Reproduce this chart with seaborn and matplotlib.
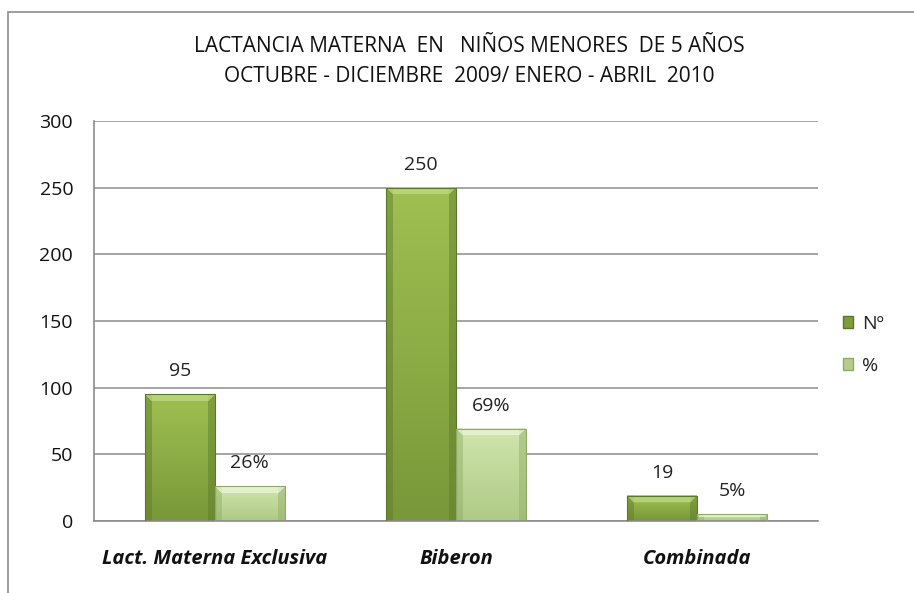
import matplotlib
matplotlib.use("Agg")
import matplotlib.pyplot as plt
import seaborn as sns
import pandas as pd
import numpy as np
from matplotlib.patches import Rectangle, Patch
from matplotlib.colors import to_rgb

categories = ["Lact. Materna Exclusiva", "Biberon", "Combinada"]
series_names = ["Nº", "%"]
numero = [95, 250, 19]
porcentaje = [26, 69, 5]
label_numero = ["95", "250", "19"]
label_pct = ["26%", "69%", "5%"]
y_ticks = [0, 50, 100, 150, 200, 250, 300]
title_lines = ["LACTANCIA MATERNA  EN   NIÑOS MENORES  DE 5 AÑOS",
               "OCTUBRE - DICIEMBRE  2009/ ENERO - ABRIL  2010"]

df = pd.DataFrame({
    "cat": categories * 2,
    "serie": [series_names[0]] * 3 + [series_names[1]] * 3,
    "valor": numero + porcentaje,
})

sns.set_theme(style="white")
plt.rcParams["font.family"] = ["Open Sans", "DejaVu Sans"]

fig = plt.figure(figsize=(9.14, 5.93), dpi=100)
ax = fig.add_axes([94 / 914, 1 - 521 / 593, 724 / 914, 400 / 593])

palette = {"Nº": "#7E9E3C", "%": "#B4CD8C"}
sns.barplot(data=df, x="cat", y="valor", hue="serie", palette=palette,
            width=0.58, ax=ax, legend=False, saturation=1)

ax.set_ylim(0, 300)
ax.set_xlim(-0.5, 2.5)

grad = {
    "Nº": dict(top="#A0C052", bottom="#789839", edge="#5A7829", hi="#C4DC88"),
    "%": dict(top="#D0E5AC", bottom="#AFCA86", edge="#8FAA66", hi="#EEF6DC"),
}

fig.canvas.draw()
for cont, name, labs in zip(ax.containers, series_names, [label_numero, label_pct]):
    g = grad[name]
    top, bot, edge, hi = (np.array(to_rgb(g[k])) for k in ("top", "bottom", "edge", "hi"))
    for p in cont:
        x0, y0 = p.get_x(), p.get_y()
        w, h = p.get_width(), p.get_height()
        if h <= 0:
            continue
        (px0, py0), (px1, py1) = ax.transData.transform([(x0, y0), (x0 + w, y0 + h)])
        W = max(int(round(px1 - px0)), 2)
        H = max(int(round(py1 - py0)), 2)
        t = np.linspace(1, 0, H)[:, None, None]
        img = bot + (top - bot) * t
        img = np.repeat(img, W, axis=1)
        bev = 7
        xs = np.arange(W)[None, :]
        ys = np.arange(H)[:, None]
        side = np.broadcast_to(np.minimum(xs, W - 1 - xs) < bev, (H, W))
        img[side] = img[side] * 0.55 + edge * 0.45
        topb = (ys < min(bev, H // 2)) & (xs >= ys) & (xs <= W - 1 - ys)
        img[topb] = img[topb] * 0.3 + hi * 0.7
        ax.imshow(img, extent=(x0, x0 + w, y0, y0 + h), aspect="auto",
                  interpolation="bilinear", zorder=2)
        p.set_facecolor("none")
        p.set_edgecolor(edge)
        p.set_linewidth(0.8)
        p.set_zorder(3)
    ax.bar_label(cont, labels=labs, padding=10, fontsize=14, color="#222222")

ax.set_ylim(0, 300)
ax.set_xlim(-0.5, 2.5)
ax.set_aspect("auto")
ax.set_yticks(y_ticks)
ax.yaxis.grid(True, color="#8C8C8C", linewidth=1.1)
ax.set_axisbelow(True)
for s in ["right", "top"]:
    ax.spines[s].set_visible(False)
for s in ["left", "bottom"]:
    ax.spines[s].set_color("#8C8C8C")
    ax.spines[s].set_linewidth(1.2)
ax.tick_params(axis="y", labelsize=14, pad=15, length=0, colors="#111111")
ax.tick_params(axis="x", length=0, pad=20)
ax.set_xlabel("")
ax.set_ylabel("")
for t in ax.get_xticklabels():
    t.set_fontsize(14.5)
    t.set_fontweight("bold")
    t.set_fontstyle("italic")
    t.set_color("#111111")

handles = [Patch(facecolor="#7E9E3C", edgecolor="#5A7829"),
           Patch(facecolor="#B4CD8C", edgecolor="#8FAA66")]
ax.legend(handles, series_names, loc="center left", bbox_to_anchor=(1.034, 0.44),
          frameon=False, fontsize=14, handlelength=0.55, handleheight=0.55,
          labelspacing=1.25, handletextpad=0.45, borderaxespad=0, borderpad=0)

fig.text(0.513, 1 - 47 / 593, title_lines[0], ha="center", va="center", fontsize=15, color="#111111")
fig.text(0.513, 1 - 76 / 593, title_lines[1], ha="center", va="center", fontsize=15, color="#111111")

fig.patches.append(Rectangle((8 / 914, -0.05), 1.2, 1 - 12 / 593 + 0.05,
                             transform=fig.transFigure, fill=False,
                             edgecolor="#8C8C8C", linewidth=1.2))

fig.savefig("out.png", dpi=100, facecolor="white")
